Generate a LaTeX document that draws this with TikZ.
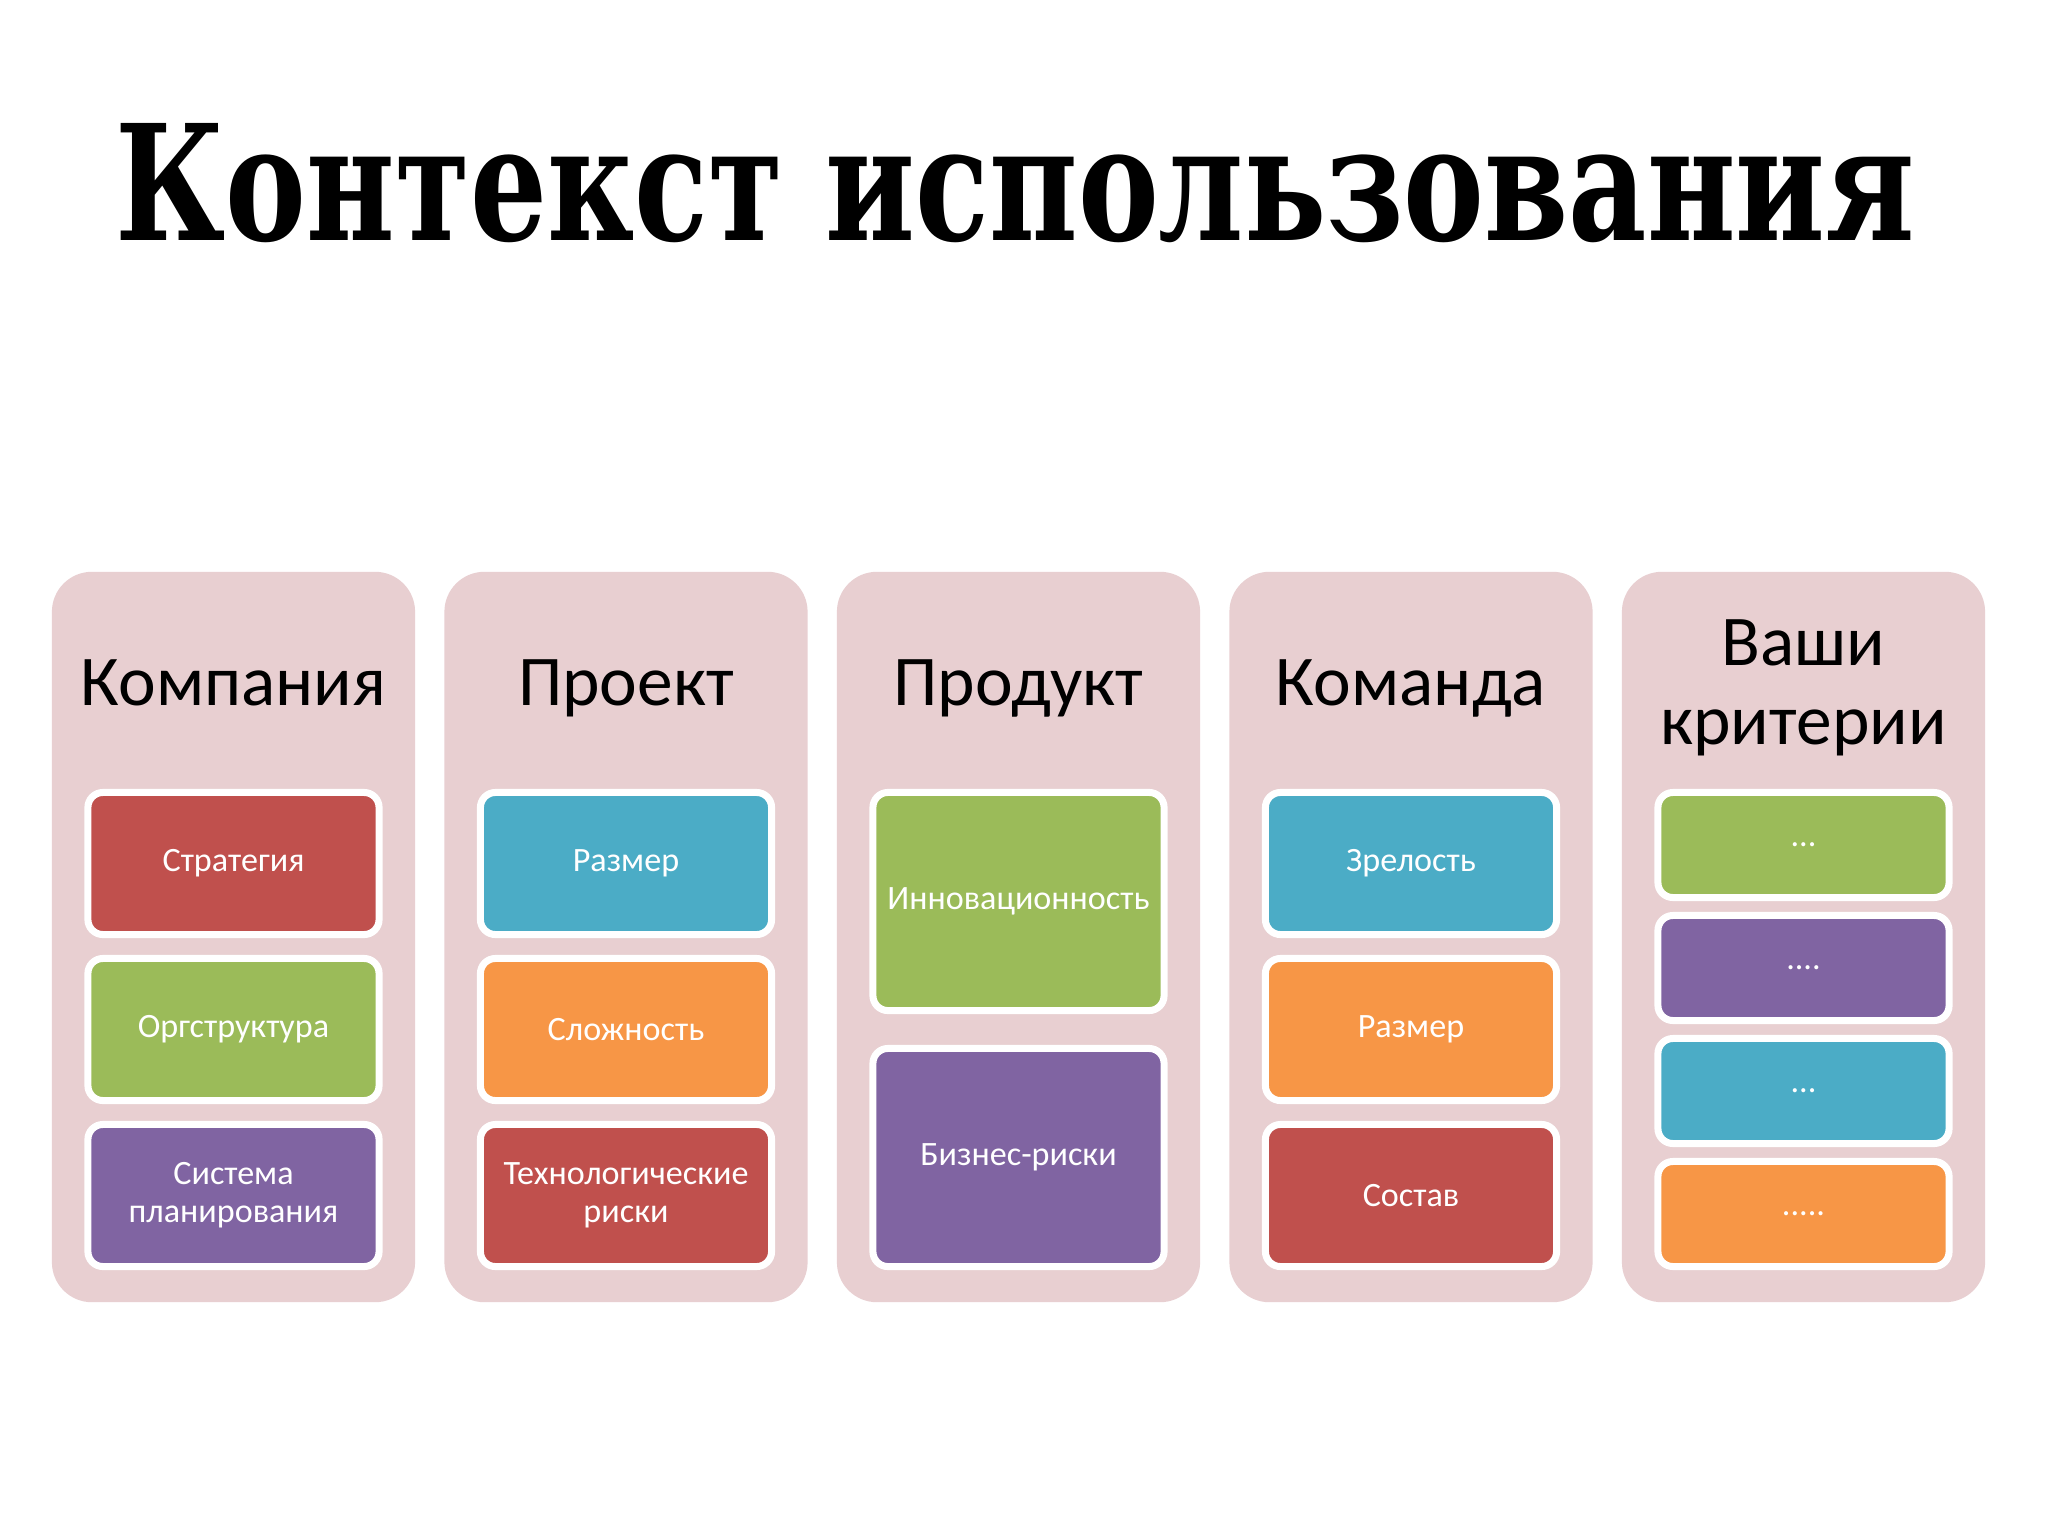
\documentclass[tikz,border=0pt]{standalone}
\usepackage{fontspec}
\setmainfont{Carlito}
\newfontfamily\titlefont{DejaVu Serif}
\usepackage{graphicx}

\definecolor{panelpink}{HTML}{E8CFD1}
\definecolor{boxred}{HTML}{C0504D}
\definecolor{boxgreen}{HTML}{9BBB59}
\definecolor{boxpurple}{HTML}{8064A2}
\definecolor{boxblue}{HTML}{4BACC6}
\definecolor{boxorange}{HTML}{F79646}

\tikzset{
  panel/.style={fill=panelpink,rounded corners=0.4cm,minimum width=3.63cm,
    minimum height=7.3cm,inner sep=0pt},
  header/.style={font=\fontsize{20.3pt}{22.4pt}\selectfont,align=center,anchor=base},
  item/.style={draw=white,line width=0.07cm,rounded corners=0.15cm,text=white,
    minimum width=2.91cm,inner sep=0pt,align=center,
    font=\fontsize{9.7pt}{10.8pt}\selectfont},
  item2/.style={item,minimum height=2.18cm},
  item3/.style={item,minimum height=1.42cm},
  item4/.style={item,minimum height=1.05cm}
}

\begin{document}
\begin{tikzpicture}[x=0.01cm,y=-0.01cm]

      \fill[white] (0,0) rectangle (2048,1536);
      \useasboundingbox (0,0) rectangle (2048,1536);

      \node[anchor=base west,inner sep=0pt] (title) at (115,240)
        {\resizebox{17.98cm}{1.17cm}{\titlefont\bfseries Контекст использования}};

      \begin{scope}[every node/.style={panel}]
        \node (p1) at (233.5,937) {};
        \node (p2) at (626,937) {};
        \node (p3) at (1018.5,937) {};
        \node (p4) at (1411,937) {};
        \node (p5) at (1803.5,937) {};
      \end{scope}

      \begin{scope}[every node/.style={header}]
        \node (h1) at (233.5,705) {Компания};
        \node (h2) at (626,705) {Проект};
        \node (h3) at (1018.5,705) {Продукт};
        \node (h4) at (1411,705) {Команда};
        \node (h5) at (1803.5,744) {Ваши\\критерии};
      \end{scope}

      \node[item3,fill=boxred]    (b11) at (233.5,863.5)  {Стратегия};
      \node[item3,fill=boxgreen]  (b12) at (233.5,1029.5) {Оргструктура};
      \node[item3,fill=boxpurple] (b13) at (233.5,1195.5) {Система\\планирования};

      \node[item3,fill=boxblue]   (b21) at (626,863.5)  {Размер};
      \node[item3,fill=boxorange] (b22) at (626,1029.5) {Сложность};
      \node[item3,fill=boxred]    (b23) at (626,1195.5) {Технологические\\риски};

      \node[item2,fill=boxgreen]  (b31) at (1018.5,901.5)  {Инновационность};
      \node[item2,fill=boxpurple] (b32) at (1018.5,1157.5) {Бизнес-риски};

      \node[item3,fill=boxblue]   (b41) at (1411,863.5)  {Зрелость};
      \node[item3,fill=boxorange] (b42) at (1411,1029.5) {Размер};
      \node[item3,fill=boxred]    (b43) at (1411,1195.5) {Состав};

      \node[item4,fill=boxgreen]  (b51) at (1803.5,845)  {...};
      \node[item4,fill=boxpurple] (b52) at (1803.5,968)  {....};
      \node[item4,fill=boxblue]   (b53) at (1803.5,1091) {...};
      \node[item4,fill=boxorange] (b54) at (1803.5,1214) {.....};

    \end{tikzpicture}
\end{document}
